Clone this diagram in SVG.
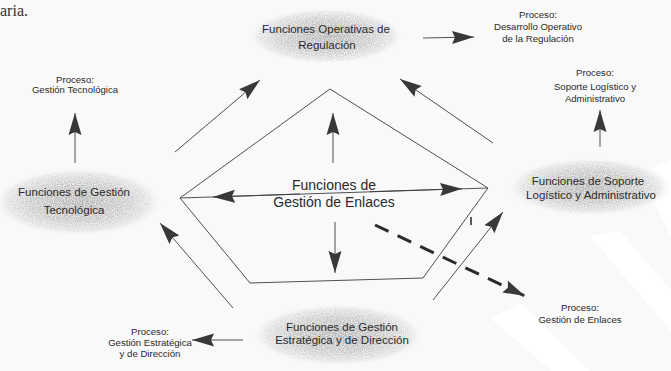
<svg xmlns="http://www.w3.org/2000/svg" width="671" height="371" viewBox="0 0 671 371">
<defs>
<radialGradient id="g" cx="50%" cy="50%" r="50%">
<stop offset="0" stop-color="#b4b4b4"/>
<stop offset="0.55" stop-color="#c9c9c9"/>
<stop offset="0.85" stop-color="#e4e4e4"/>
<stop offset="1" stop-color="#f9f9f9" stop-opacity="0"/>
</radialGradient>
<filter id="grain" x="0" y="0" width="100%" height="100%">
<feTurbulence type="fractalNoise" baseFrequency="0.9" numOctaves="1" seed="3" result="n"/>
<feColorMatrix in="n" type="matrix" values="0 0 0 0 1  0 0 0 0 1  0 0 0 0 1  0 0 0 -2.2 1.3" result="w"/>
<feComposite in="w" in2="SourceGraphic" operator="in" result="wm"/>
<feMerge><feMergeNode in="SourceGraphic"/><feMergeNode in="wm"/></feMerge>
</filter>
<marker id="ah" markerUnits="userSpaceOnUse" markerWidth="24" markerHeight="14" refX="22" refY="7" orient="auto">
<path d="M0,0.5 L22,7 L0,13.5 L3,7 z" fill="#383838"/>
</marker>
</defs>
<style>
.bg{fill:#f9f9f9}
.wm{fill:#ffffff}
.ell{fill:url(#g);filter:url(#grain)}
.t{font-family:"Liberation Sans",Arial,sans-serif;fill:#2a2a2a;text-anchor:middle}
.big{font-size:11.5px}
.sm{font-size:9.6px}
.ctr{font-size:14px}
.ln{stroke:#3c3c3c;stroke-width:0.9;fill:none}
.ar{stroke:#3c3c3c;stroke-width:0.9;fill:none;marker-end:url(#ah)}
.dash{stroke:#2a2a2a;stroke-width:3;fill:none;stroke-dasharray:15 10;marker-end:url(#ah)}
</style>
<rect class="bg" x="0" y="0" width="671" height="371"/>
<g id="watermark">
<polygon class="wm" points="640,173 671,160 671,237"/>
<polygon class="wm" points="590,236 620,231 671,290 671,332"/>
<polygon class="wm" points="490,318 522,304 590,371 552,371"/>
</g>
<text x="0" y="16" style="font-family:'Liberation Serif',serif;font-size:16px;fill:#333">aria.</text>

<g id="pentagon">
<polygon class="ln" points="330,89 488,188 423,278 250,283 180,198"/>
<line class="ln" x1="180" y1="198" x2="488" y2="188"/>
<line x1="471" y1="217" x2="471" y2="225" stroke="#333" stroke-width="1.6"/>
</g>

<g id="node-operativas">
<ellipse class="ell" cx="326" cy="36" rx="78" ry="28"/>
<text class="t big" x="326" y="33">Funciones Operativas de</text>
<text class="t big" x="327" y="49">Regulación</text>
</g>
<g id="node-tecnologica">
<ellipse class="ell" cx="78" cy="202" rx="84" ry="34"/>
<text class="t big" x="74" y="196">Funciones de Gestión</text>
<text class="t big" x="74" y="214">Tecnológica</text>
</g>
<g id="node-soporte">
<ellipse class="ell" cx="590" cy="187" rx="82" ry="29"/>
<text class="t big" x="588" y="185">Funciones de Soporte</text>
<text class="t big" x="591" y="199">Logístico y Administrativo</text>
</g>
<g id="node-estrategica">
<ellipse class="ell" cx="338" cy="335" rx="86" ry="31"/>
<text class="t big" x="342" y="331">Funciones de Gestión</text>
<text class="t big" x="342" y="344">Estratégica y de Dirección</text>
</g>
<g id="node-enlaces">
<text class="t ctr" x="334" y="190">Funciones de</text>
<text class="t ctr" x="334" y="207">Gestión de Enlaces</text>
</g>

<g id="proc-tecnologica">
<text class="t sm" x="75" y="83">Proceso:</text>
<text class="t sm" x="75" y="93">Gestión Tecnológica</text>
</g>
<g id="proc-desarrollo">
<text class="t sm" x="538" y="18">Proceso:</text>
<text class="t sm" x="538" y="30">Desarrollo Operativo</text>
<text class="t sm" x="538" y="42">de la Regulación</text>
</g>
<g id="proc-soporte">
<text class="t sm" x="595" y="76">Proceso:</text>
<text class="t sm" x="595" y="90">Soporte Logístico y</text>
<text class="t sm" x="595" y="102">Administrativo</text>
</g>
<g id="proc-enlaces">
<text class="t sm" x="580" y="311">Proceso:</text>
<text class="t sm" x="580" y="323">Gestión de Enlaces</text>
</g>
<g id="proc-estrategica">
<text class="t sm" x="150" y="335">Proceso:</text>
<text class="t sm" x="150" y="346">Gestión Estratégica</text>
<text class="t sm" x="150" y="357">y de Dirección</text>
</g>

<g id="connectors">
<path class="ar" d="M423,38 L474,37"/>
<path class="ar" d="M75,163 L75,113"/>
<path class="ar" d="M175,152 L260,80"/>
<path class="ar" d="M493,143 L400,79"/>
<path class="ar" d="M600,147 L600,110"/>
<path class="ar" d="M333,163 L333,113"/>
<path class="ar" d="M335,222 L335,273"/>
<path class="ar" d="M300,194 L213,197"/>
<path class="ar" d="M370,191.7 L462,188.7"/>
<path class="dash" d="M375,225 L525,296"/>
<path class="ar" d="M433,300 L503,212"/>
<path class="ar" d="M233,308 L160,223"/>
<path class="ar" d="M243,340 L192,340"/>
</g>
</svg>
